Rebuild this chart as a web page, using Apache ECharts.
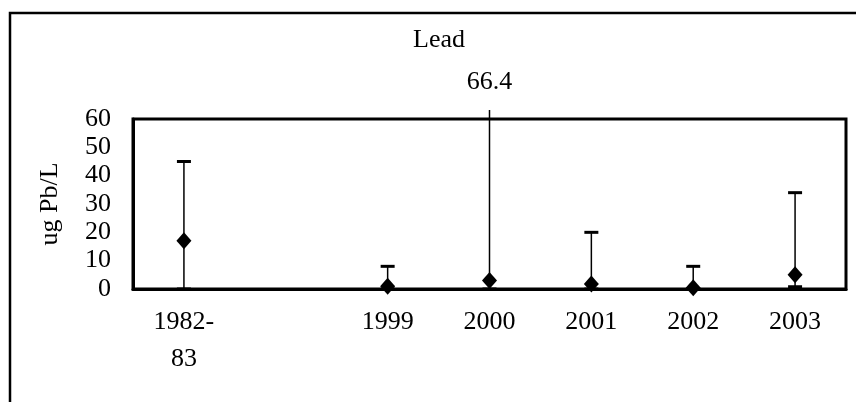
<!DOCTYPE html>
<html>
<head>
<meta charset="utf-8">
<script src="https://cdn.jsdelivr.net/npm/echarts@6/dist/echarts.min.js"></script>
<style>html,body{margin:0;padding:0;background:#fff;}#c{width:856px;height:402px;}</style>
</head>
<body>
<div id="c"></div>
<script>
var categories = ['1982-\n83', '', '1999', '2000', '2001', '2002', '2003'];
var meanValues = [17, null, 1, 3, 1.8, 0.4, 5];
var lowValues  = [0, null, 0, 0, 0, 0, 0.8];
var highValues = [45, null, 8, 66.4, 20, 8, 34];
var yTicks = [0, 10, 20, 30, 40, 50, 60];

var FONT = '"Liberation Serif", "Times New Roman", serif';
var Y_MAX = yTicks[yTicks.length - 1];

var errData = [];
var meanData = [];
for (var i = 0; i < categories.length; i++) {
  if (meanValues[i] == null) continue;
  errData.push([i, lowValues[i], highValues[i]]);
  meanData.push([i, meanValues[i]]);
}

var chart = echarts.init(document.getElementById('c'), null, {renderer: 'canvas'});
chart.setOption({
  animation: false,
  backgroundColor: '#fff',
  graphic: [{
    type: 'rect',
    shape: {x: 10, y: 13, width: 900, height: 500},
    style: {fill: 'none', stroke: '#000', lineWidth: 2.5},
    silent: true
  }, {
    type: 'text',
    x: 439, y: 40,
    style: {text: 'Lead', align: 'center', verticalAlign: 'middle',
      font: '26px ' + FONT, fill: '#000'},
    silent: true
  }],
  grid: {
    left: 133, top: 119, right: 10, bottom: 113,
    show: true, borderColor: '#000', borderWidth: 3, backgroundColor: 'transparent'
  },
  xAxis: {
    type: 'category',
    data: categories,
    axisLine: {show: true, lineStyle: {color: '#000', width: 3}},
    axisTick: {show: false},
    splitLine: {show: false},
    axisLabel: {
      interval: 0, margin: 15, color: '#000',
      fontFamily: FONT, fontSize: 26, lineHeight: 37
    }
  },
  yAxis: {
    type: 'value',
    min: 0, max: Y_MAX, interval: 10,
    name: 'ug Pb/L',
    nameLocation: 'middle',
    nameGap: 70,
    nameRotate: 90,
    nameTextStyle: {fontFamily: FONT, fontSize: 26, color: '#000'},
    axisLine: {show: true, lineStyle: {color: '#000', width: 3}},
    axisTick: {show: false},
    splitLine: {show: false},
    axisLabel: {
      margin: 22, color: '#000', fontFamily: FONT, fontSize: 26,
      padding: [0, 0, 10, 0]
    }
  },
  series: [{
    type: 'custom',
    data: errData,
    clip: false,
    z: 3,
    renderItem: function (params, api) {
      var x = api.value(0);
      var lo = api.value(1);
      var hi = api.value(2);
      var pLo = api.coord([x, lo]);
      var pHi = api.coord([x, Math.min(hi, Y_MAX)]);
      var topY = api.coord([x, Y_MAX])[1];
      var children = [];
      var cap = 7;
      if (hi > Y_MAX) {
        children.push({type: 'line', shape: {x1: pLo[0], y1: pLo[1], x2: pLo[0], y2: topY - 9},
          style: {stroke: '#000', lineWidth: 1.5}});
        children.push({type: 'text', style: {text: String(hi), x: pLo[0], y: topY - 37,
          align: 'center', verticalAlign: 'middle', font: '26px ' + FONT, fill: '#000'}});
      } else {
        children.push({type: 'line', shape: {x1: pLo[0], y1: pLo[1], x2: pHi[0], y2: pHi[1]},
          style: {stroke: '#000', lineWidth: 1.5}});
        children.push({type: 'line', shape: {x1: pHi[0] - cap, y1: pHi[1], x2: pHi[0] + cap, y2: pHi[1]},
          style: {stroke: '#000', lineWidth: 3}});
      }
      children.push({type: 'line', shape: {x1: pLo[0] - cap, y1: pLo[1], x2: pLo[0] + cap, y2: pLo[1]},
        style: {stroke: '#000', lineWidth: 3}});
      return {type: 'group', children: children};
    }
  }, {
    type: 'scatter',
    data: meanData,
    symbol: 'diamond',
    symbolSize: [15, 17],
    clip: false,
    z: 4,
    itemStyle: {color: '#000', opacity: 1}
  }]
});
</script>
</body>
</html>
